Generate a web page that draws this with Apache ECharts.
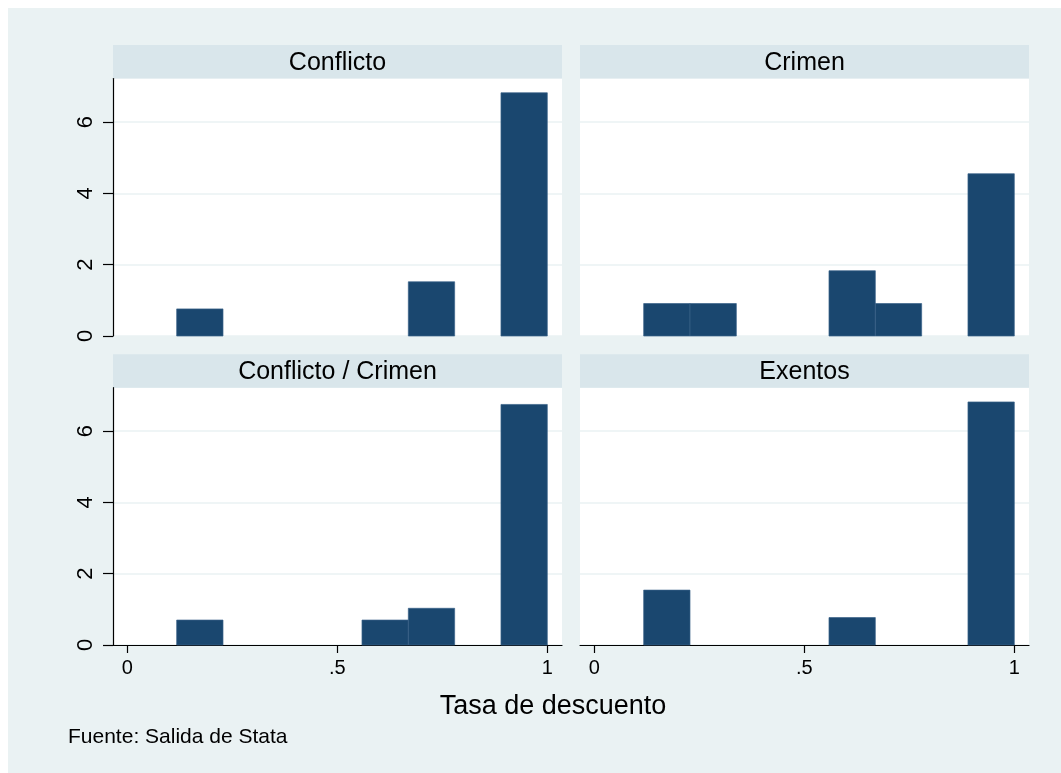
<!DOCTYPE html>
<html>
<head>
<meta charset="utf-8">
<script src="https://cdn.jsdelivr.net/npm/echarts@6/dist/echarts.min.js"></script>
<style>
html,body{margin:0;padding:0;background:#fff;}
#chart{width:1061px;height:773px;}
</style>
</head>
<body>
<div id="chart"></div>
<script>
// ---- data ----
const panelTitles = ['Conflicto', 'Crimen', 'Conflicto / Crimen', 'Exentos'];
const binEdges = [0.1176, 0.2279, 0.3382, 0.4485, 0.5588, 0.6691, 0.7794, 0.8897, 1.0];
const conflicto       = [0.76, 0, 0, 0, 0, 1.52, 0, 6.82];
const crimen          = [0.91, 0.91, 0, 0, 1.83, 0.91, 0, 4.55];
const conflictoCrimen = [0.70, 0, 0, 0, 0.70, 1.03, 0, 6.75];
const exentos         = [1.54, 0, 0, 0, 0.77, 0, 0, 6.82];
const xTickValues = [0, 0.5, 1];
const xTickLabels = ['0', '.5', '1'];
const yTickValues = [0, 2, 4, 6];
const yTickLabels = ['0', '2', '4', '6'];
const xTitle = 'Tasa de descuento';
const note = 'Fuente: Salida de Stata';

const panelData = [conflicto, crimen, conflictoCrimen, exentos];

// ---- layout ----
const FONT = 'Liberation Sans, Arial, Helvetica, sans-serif';
const BG = '#EAF2F3';
const STRIP = '#D9E6EB';
const BAR = '#1A476F';
const cols = [{left: 113, width: 449}, {left: 580, width: 449}];
const rows = [{top: 78.5, height: 257.5, stripTop: 45}, {top: 387.7, height: 257.3, stripTop: 354.3}];

const grids = [], xAxes = [], yAxes = [], series = [], graphics = [];

graphics.push({type: 'rect', z: -10, silent: true,
  shape: {x: 8, y: 8, width: 1061, height: 773}, style: {fill: BG}});

for (let i = 0; i < 4; i++) {
  const c = cols[i % 2], r = rows[Math.floor(i / 2)];
  const isLeft = i % 2 === 0, isBottom = i >= 2;
  grids.push({left: c.left, top: r.top, width: c.width, height: r.height,
    show: true, backgroundColor: '#ffffff', borderWidth: 0, containLabel: false});
  xAxes.push({
    gridIndex: i, type: 'value', min: -0.034, max: 1.035,
    axisLine: {show: isBottom, onZero: false, lineStyle: {color: '#000', width: 1.2}},
    axisTick: {show: isBottom, length: 8, customValues: xTickValues, lineStyle: {color: '#000', width: 1.2}},
    axisLabel: {show: isBottom, customValues: xTickValues, margin: 13, fontSize: 20, color: '#000', fontFamily: FONT,
      formatter: v => { const k = xTickValues.findIndex(t => Math.abs(t - v) < 1e-9); return k >= 0 ? xTickLabels[k] : ''; }},
    splitLine: {show: false}
  });
  yAxes.push({
    gridIndex: i, type: 'value', min: 0, max: 7.22, interval: 2,
    axisLine: {show: isLeft, onZero: false, lineStyle: {color: '#000', width: 1.2}},
    axisTick: {show: isLeft, length: 10, customValues: yTickValues, lineStyle: {color: '#000', width: 1.2}},
    axisLabel: {show: isLeft, customValues: yTickValues, rotate: 90, margin: 16, fontSize: 22, color: '#000', fontFamily: FONT,
      formatter: v => { const k = yTickValues.findIndex(t => Math.abs(t - v) < 1e-9); return k >= 0 ? yTickLabels[k] : ''; }},
    splitLine: {show: true, lineStyle: {color: BG, width: 1.5}}
  });
  const rows_ = [];
  panelData[i].forEach((h, k) => { if (h > 0) rows_.push([binEdges[k], binEdges[k + 1], h]); });
  series.push({
    type: 'custom', xAxisIndex: i, yAxisIndex: i, data: rows_, silent: true,
    renderItem: (params, api) => {
      const p0 = api.coord([api.value(0), 0]);
      const p1 = api.coord([api.value(1), api.value(2)]);
      return {type: 'rect',
        shape: {x: p0[0], y: p1[1], width: p1[0] - p0[0], height: p0[1] - p1[1]},
        style: {fill: BAR, stroke: '#3a6288', lineWidth: 0.7}};
    }
  });
  // strip
  graphics.push({type: 'rect', silent: true,
    shape: {x: c.left, y: r.stripTop, width: c.width, height: r.top - r.stripTop}, style: {fill: STRIP}});
  graphics.push({type: 'text', silent: true,
    x: c.left + c.width / 2, y: (r.stripTop + r.top) / 2 + 1,
    style: {text: panelTitles[i], fill: '#000', font: '25px ' + FONT, textAlign: 'center', textVerticalAlign: 'middle'}});
}

graphics.push({type: 'text', silent: true, x: 553, y: 707,
  style: {text: xTitle, fill: '#000', font: '27px ' + FONT, textAlign: 'center', textVerticalAlign: 'middle'}});
graphics.push({type: 'text', silent: true, x: 68, y: 737,
  style: {text: note, fill: '#000', font: '21px ' + FONT, textAlign: 'left', textVerticalAlign: 'middle'}});

const chart = echarts.init(document.getElementById('chart'));
chart.setOption({
  animation: false,
  backgroundColor: '#ffffff',
  grid: grids, xAxis: xAxes, yAxis: yAxes, series: series, graphic: graphics
});
</script>
</body>
</html>
